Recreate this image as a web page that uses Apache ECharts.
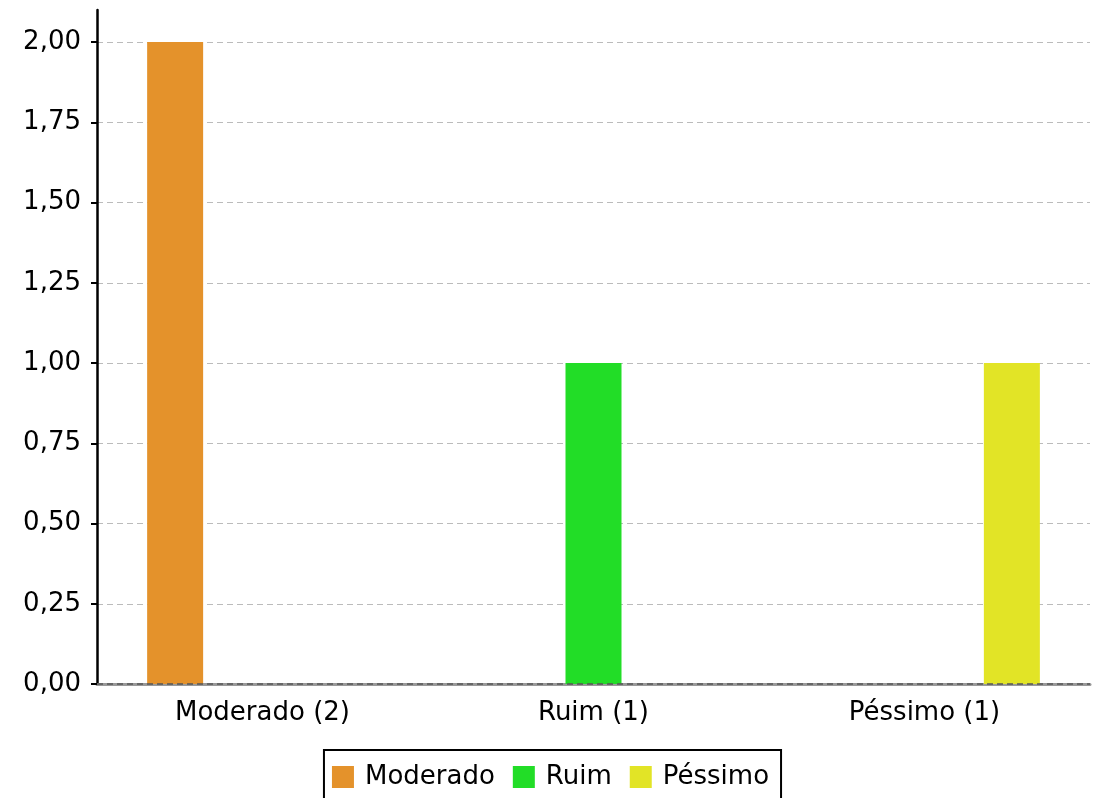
<!DOCTYPE html>
<html><head><meta charset="utf-8">
<script src="https://cdn.jsdelivr.net/npm/echarts@6/dist/echarts.min.js"></script>
<style>html,body{margin:0;padding:0;background:#fff}#c{width:1101px;height:798px}</style>
</head><body><div id="c"></div>
<script>
const categories = ['Moderado (2)', 'Ruim (1)', 'Péssimo (1)'];
const seriesNames = ['Moderado', 'Ruim', 'Péssimo'];
const moderado = [2, 0, 0];
const ruim = [0, 1, 0];
const pessimo = [0, 0, 1];
const yTicks = [0, 0.25, 0.5, 0.75, 1, 1.25, 1.5, 1.75, 2];
const colors = ['#E4922B', '#22DD27', '#E2E426'];
const font = 'DejaVu Sans';

const chart = echarts.init(document.getElementById('c'), null, {renderer: 'canvas'});
const fmt = v => v.toFixed(2).replace('.', ',');
const values = [moderado, ruim, pessimo];
chart.setOption({
  animation: false,
  color: colors,
  grid: {left: 97, right: 11, top: 10, bottom: 114, containLabel: false},
  legend: {
    data: seriesNames, bottom: -8, left: 'center',
    itemWidth: 22, itemHeight: 22, itemGap: 18,
    borderColor: '#000', borderWidth: 2,
    padding: [14, 12, 16, 8],
    icon: 'rect',
    textStyle: {fontFamily: font, fontSize: 26, color: '#000', padding: [0, 0, 0, 6]}
  },
  xAxis: {
    type: 'category', data: categories,
    axisLine: {lineStyle: {color: '#999', width: 3}},
    axisTick: {show: false},
    axisLabel: {fontFamily: font, fontSize: 26, color: '#000', margin: 16}
  },
  yAxis: {
    type: 'value', min: 0, max: 2.1, interval: 0.25,
    axisLine: {show: true, lineStyle: {color: '#000', width: 2.5}},
    axisTick: {show: true, length: 6, lineStyle: {color: '#000', width: 2}, customValues: yTicks},
    axisLabel: {fontFamily: font, fontSize: 26, color: '#000', margin: 16, customValues: yTicks, formatter: fmt},
    splitLine: {show: true, lineStyle: {color: '#bbb', width: 1, type: [6, 4]}}
  },
  series: seriesNames.map((n, i) => ({
    name: n, type: 'bar', data: values[i], barWidth: 56, barGap: '56%',
    itemStyle: {color: colors[i]},
    markLine: i === 0 ? {
      silent: true, symbol: 'none', label: {show: false},
      lineStyle: {color: '#555', width: 1.5, type: [6, 4]},
      data: [{yAxis: 0}]
    } : undefined
  }))
});
</script></body></html>
